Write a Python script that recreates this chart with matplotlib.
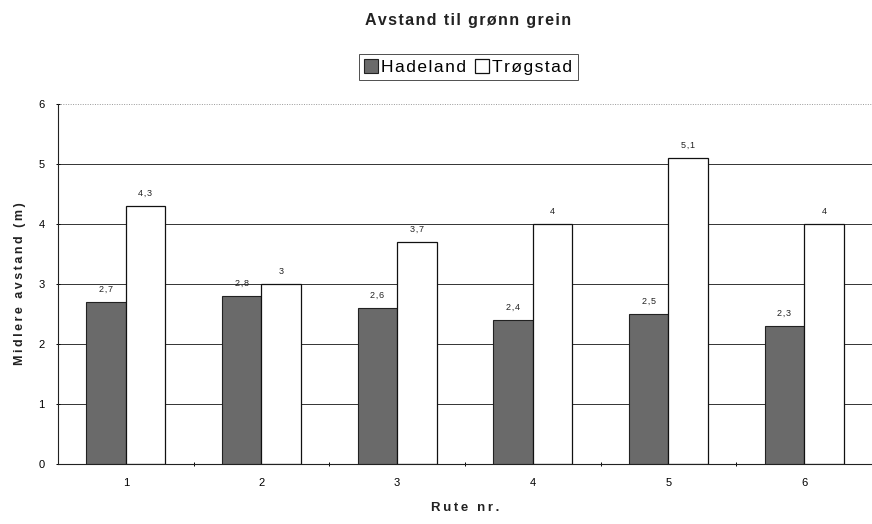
import numpy as np
import matplotlib.pyplot as plt
from matplotlib.ticker import FixedLocator

plt.rcParams['font.family'] = ['Liberation Sans', 'DejaVu Sans']

# Data
ruter = ['1', '2', '3', '4', '5', '6']
hadeland = [2.7, 2.8, 2.6, 2.4, 2.5, 2.3]
trogstad = [4.3, 3.0, 3.7, 4.0, 5.1, 4.0]
serier = ['Hadeland', 'Trøgstad']


# sperret skrift, som i den skannede Excel-figuren
def sperret(s, sep='\u2009'):
    return sep.join(s)


def fmt(v):
    return f'{v:g}'.replace('.', ',')


fig = plt.figure(figsize=(8.72, 5.24), dpi=100)
ax = fig.add_axes([0.0665, 0.1145, 0.9335, 0.687])

x = np.arange(1, len(ruter) + 1)
w = 0.29

# Rutenett
for yv in range(1, 6):
    ax.axhline(yv, color='#333333', lw=0.7, zorder=0)
ax.axhline(6, color='#999999', lw=0.7, ls=(0, (1, 1.5)), zorder=0)

b1 = ax.bar(x - w / 2, hadeland, w, color='#6a6a6a', edgecolor='#222222',
            lw=0.8, label=sperret(serier[0], '\u200a'), zorder=2)
b2 = ax.bar(x + w / 2, trogstad, w, color='white', edgecolor='#111111',
            lw=0.9, label=sperret(serier[1], '\u200a'), zorder=2)

for xi, v in zip(x - w / 2, hadeland):
    ax.text(xi, v + 0.13, sperret(fmt(v), '\u200a'), ha='center', va='bottom',
            fontsize=6.5, color='#222222')
for xi, v in zip(x + w / 2, trogstad):
    ax.text(xi, v + 0.13, sperret(fmt(v), '\u200a'), ha='center', va='bottom',
            fontsize=6.5, color='#222222')

ax.set_xlim(0.5, 6.5)
ax.set_ylim(0, 6)
ax.set_xticks(x)
ax.set_xticklabels(ruter, fontsize=8)
ax.xaxis.set_minor_locator(FixedLocator(np.arange(1.5, 6.5, 1)))
ax.tick_params(axis='x', which='major', length=0, pad=10)
ax.tick_params(axis='x', which='minor', length=3, direction='inout', width=0.7)
ax.set_yticks(range(0, 7))
ax.tick_params(axis='y', labelsize=8, length=3, width=0.7, direction='inout', pad=8)

for s in ['top', 'right']:
    ax.spines[s].set_visible(False)
ax.spines['left'].set_color('#222222')
ax.spines['bottom'].set_color('#222222')

ax.set_ylabel(sperret('Midlere avstand (m)'), fontsize=9, fontweight='bold', labelpad=9,
              color='#222222')
ax.set_xlabel(sperret('Rute nr.'), fontsize=9.5, fontweight='bold', labelpad=10,
              color='#222222')

fig.text(0.537, 0.96, sperret('Avstand til grønn grein', '\u200a'), ha='center', va='center',
         fontsize=11.5, fontweight='bold', color='#222222')

leg = fig.legend(handles=[b1, b2], loc='center', bbox_to_anchor=(0.537, 0.872), ncol=2,
                 fontsize=12.5, frameon=True, fancybox=False, edgecolor='#222222',
                 handlelength=0.8, handleheight=0.8, handletextpad=0.2, columnspacing=0.5,
                 borderpad=0.3)
leg.get_frame().set_linewidth(0.7)

fig.savefig('out.png', dpi=100)
